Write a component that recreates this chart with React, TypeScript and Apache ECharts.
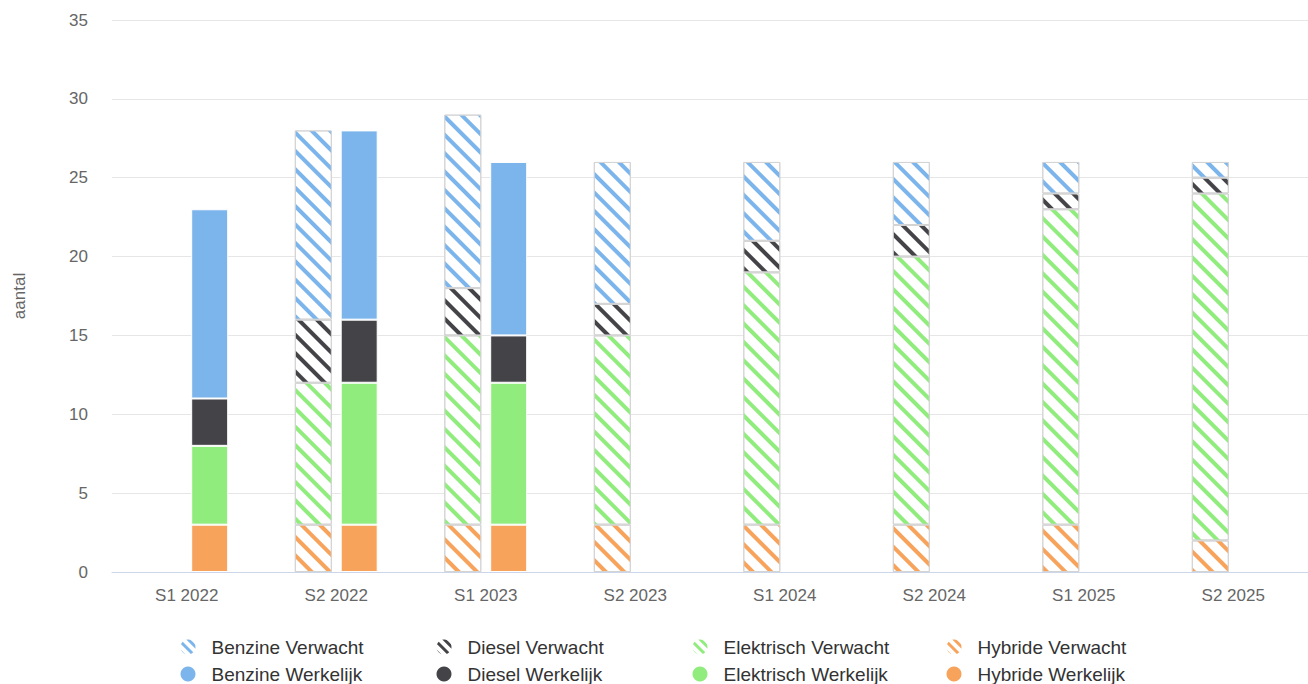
import React, { useEffect, useRef } from 'react';
import * as echarts from 'echarts';

const categories = ['S1 2022', 'S2 2022', 'S1 2023', 'S2 2023', 'S1 2024', 'S2 2024', 'S1 2025', 'S2 2025'];

// Verwacht (expected) per half year
const hybrideVerwacht = [null, 3, 3, 3, 3, 3, 3, 2];
const elektrischVerwacht = [null, 9, 12, 12, 16, 17, 20, 22];
const dieselVerwacht = [null, 4, 3, 2, 2, 2, 1, 1];
const benzineVerwacht = [null, 12, 11, 9, 5, 4, 2, 1];

// Werkelijk (actual) per half year
const hybrideWerkelijk = [3, 3, 3, null, null, null, null, null];
const elektrischWerkelijk = [5, 9, 9, null, null, null, null, null];
const dieselWerkelijk = [3, 4, 3, null, null, null, null, null];
const benzineWerkelijk = [12, 12, 11, null, null, null, null, null];

const yTicks = { min: 0, max: 35, interval: 5 };

const COLORS = {
  Benzine: '#7cb5ec',
  Diesel: '#434348',
  Elektrisch: '#90ed7d',
  Hybride: '#f7a35c',
};

const FONT = '"Liberation Sans", Arial, Helvetica, sans-serif';

// Diagonal "\" stripes on white for the expected values
function hatch(color: string, line = 3.5, gap = 8.5) {
  return {
    symbol: 'rect',
    symbolSize: 1,
    dashArrayX: [1, 0],
    dashArrayY: [line, gap],
    rotation: Math.PI / 4,
    color,
  };
}

function makeSeries(fuel: keyof typeof COLORS, kind: 'Verwacht' | 'Werkelijk', data: (number | null)[]) {
  const color = COLORS[fuel];
  const hatched = kind === 'Verwacht';
  return {
    name: `${fuel} ${kind}`,
    type: 'bar',
    stack: kind,
    data,
    barWidth: 37,
    barGap: '24%',
    itemStyle: hatched
      ? { color: '#ffffff', borderColor: '#d4d4d4', borderWidth: 1, decal: hatch(color) }
      : { color, borderColor: '#ffffff', borderWidth: 1 },
    emphasis: { disabled: true },
  };
}

const legendFuels: (keyof typeof COLORS)[] = ['Benzine', 'Diesel', 'Elektrisch', 'Hybride'];
const legendKinds: ('Verwacht' | 'Werkelijk')[] = ['Verwacht', 'Werkelijk'];

export default function App() {
  const ref = useRef<HTMLDivElement>(null);

  useEffect(() => {
    if (!ref.current) return;
    const chart = echarts.init(ref.current, undefined, { renderer: 'svg' });

    const series = [
      makeSeries('Hybride', 'Verwacht', hybrideVerwacht),
      makeSeries('Elektrisch', 'Verwacht', elektrischVerwacht),
      makeSeries('Diesel', 'Verwacht', dieselVerwacht),
      makeSeries('Benzine', 'Verwacht', benzineVerwacht),
      makeSeries('Hybride', 'Werkelijk', hybrideWerkelijk),
      makeSeries('Elektrisch', 'Werkelijk', elektrischWerkelijk),
      makeSeries('Diesel', 'Werkelijk', dieselWerkelijk),
      makeSeries('Benzine', 'Werkelijk', benzineWerkelijk),
    ];

    const colCenters = [188, 444, 700, 954];
    const rowCenters = [647, 674];
    const legends: any[] = [];
    legendKinds.forEach((kind, r) => {
      legendFuels.forEach((fuel, c) => {
        const hatched = kind === 'Verwacht';
        legends.push({
          data: [`${fuel} ${kind}`],
          left: colCenters[c] - 7.5,
          top: rowCenters[r] - 11,
          padding: 0,
          icon: 'circle',
          itemWidth: 15,
          itemHeight: 15,
          selectedMode: false,
          itemStyle: hatched
            ? { borderWidth: 0, color: '#ffffff', decal: hatch(COLORS[fuel], 3, 4) }
            : { borderWidth: 0 },
          textStyle: {
            color: '#333333',
            fontSize: 19,
            fontFamily: FONT,
            lineHeight: 22,
            padding: [0, 0, 0, 11],
          },
        });
      });
    });

    chart.setOption({
      animation: false,
      grid: { left: 112, right: 0, top: 20, bottom: 112, containLabel: false },
      legend: legends,
      xAxis: {
        type: 'category',
        data: categories,
        axisLine: { lineStyle: { color: '#ccd6eb', width: 1 } },
        axisTick: { show: false },
        axisLabel: { color: '#666666', fontSize: 17, fontFamily: FONT, margin: 15 },
      },
      yAxis: {
        type: 'value',
        min: yTicks.min,
        max: yTicks.max,
        interval: yTicks.interval,
        name: 'aantal',
        nameLocation: 'middle',
        nameGap: 84,
        nameRotate: 90,
        nameTextStyle: { color: '#666666', fontSize: 17, fontFamily: FONT },
        axisLine: { show: false },
        axisTick: { show: false },
        axisLabel: { color: '#666666', fontSize: 17, fontFamily: FONT, margin: 24 },
        splitLine: { lineStyle: { color: '#e6e6e6', width: 1 } },
      },
      series,
    });

    return () => chart.dispose();
  }, []);

  return (
    <div
      ref={ref}
      style={{ position: 'fixed', left: 0, top: 0, width: 1308, height: 684, background: '#ffffff' }}
    />
  );
}
